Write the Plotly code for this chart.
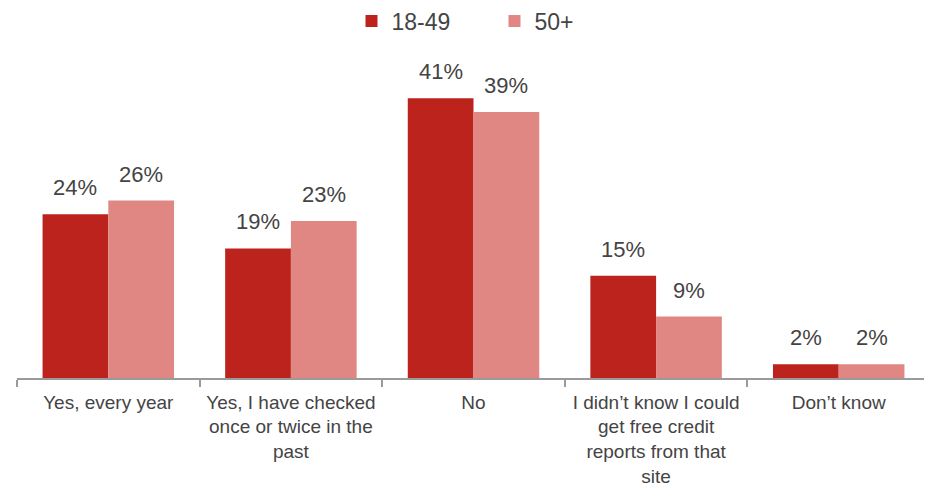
import plotly.graph_objects as go

categories = ["Yes, every year", "Yes, I have checked<br>once or twice in the<br>past", "No",
              "I didn’t know I could<br>get free credit<br>reports from that<br>site", "Don’t know"]
series_names = ["18-49", "50+"]
values_1849 = [24, 19, 41, 15, 2]
values_50 = [26, 23, 39, 9, 2]

colors = ["#bc231c", "#e08783"]
text_color = "#444444"
font_family = "Liberation Sans, Arial, sans-serif"

bargap = 0.28
fig = go.Figure()
for name, vals, col in zip(series_names, [values_1849, values_50], colors):
    fig.add_trace(go.Bar(x=categories, y=vals, name=name, marker=dict(color=col, line=dict(width=0)),
                         hoverinfo="skip"))

# value labels as annotations (offset to each bar's centre)
half = (1 - bargap) / 4
for k, vals in enumerate([values_1849, values_50]):
    off = -half if k == 0 else half
    for i, v in enumerate(vals):
        fig.add_annotation(x=i + off, y=v, xref="x", yref="y", text=f"{v}%", showarrow=False,
                           yanchor="bottom", yshift=12,
                           font=dict(size=22, color=text_color, family=font_family))

# page body has an 8px margin, so the figure is 8px smaller than the window
fig.update_layout(
    width=924, height=478,
    margin=dict(l=9, r=2, t=63, b=108, autoexpand=False),
    paper_bgcolor="white", plot_bgcolor="white",
    barmode="group", bargap=bargap, bargroupgap=0,
    font=dict(family=font_family, color=text_color),
    showlegend=True,
    legend=dict(orientation="h", x=0.523, xanchor="center", y=1.163, yanchor="middle",
                font=dict(size=23, color=text_color), entrywidth=98, itemclick=False),
    xaxis=dict(type="category", showline=True, linecolor="#9a9a9a", linewidth=1.5,
               ticks="outside", tickson="boundaries", ticklen=7, tickcolor="#9a9a9a", tickwidth=1.5,
               ticklabelstandoff=6, automargin=False,
               tickfont=dict(size=19, color=text_color), showgrid=False, fixedrange=True),
    yaxis=dict(range=[0, 45], visible=False, showgrid=False, fixedrange=True, automargin=False),
)

fig.write_html("out.html")
